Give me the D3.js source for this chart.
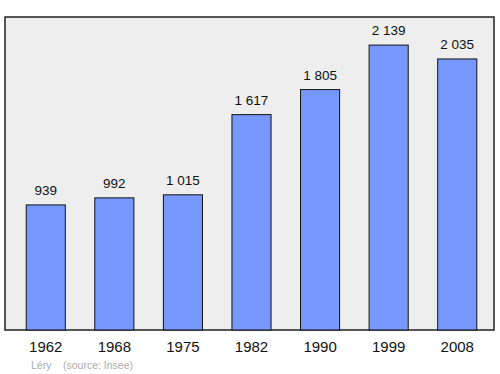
<!DOCTYPE html>
<html lang="fr">
<head>
<meta charset="UTF-8">
<title>Léry - population</title>
<script src="https://d3js.org/d3.v7.min.js"></script>
<style>
  body { margin: 0; background: #fff; }
  svg { display: block; font-family: "Liberation Sans", Arial, sans-serif; }
</style>
</head>
<body>
<svg></svg>
<script>
  const years = ["1962", "1968", "1975", "1982", "1990", "1999", "2008"];
  const population = [939, 992, 1015, 1617, 1805, 2139, 2035];

  const width = 500, height = 374;
  const frame = { left: 5, top: 17, right: 494, bottom: 330 };

  const svg = d3.select("svg").attr("width", width).attr("height", height);

  const x = d3.scaleBand().domain(years).range([12.5, 490.5]).paddingInner(0.43).paddingOuter(0.2);
  const y = d3.scaleLinear().domain([0, 2350]).range([frame.bottom, frame.top]);

  const fmt = v => d3.format(",")(v).replace(/,/g, " ");

  svg.append("rect")
    .attr("x", frame.left).attr("y", frame.top)
    .attr("width", frame.right - frame.left).attr("height", frame.bottom - frame.top)
    .attr("fill", "#eeeeee").attr("stroke", "#222").attr("stroke-width", 1.5);

  const data = years.map((yr, i) => ({ yr, v: population[i] }));

  svg.selectAll(".bar").data(data).join("rect")
    .attr("class", "bar")
    .attr("x", d => x(d.yr))
    .attr("y", d => y(d.v))
    .attr("width", x.bandwidth())
    .attr("height", d => y(0) - y(d.v))
    .attr("fill", "#7799ff").attr("stroke", "#111").attr("stroke-width", 1);

  svg.selectAll(".val").data(data).join("text")
    .attr("class", "val")
    .attr("x", d => x(d.yr) + x.bandwidth() / 2)
    .attr("y", d => y(d.v) - 10)
    .attr("text-anchor", "middle").attr("font-size", 13.5).attr("fill", "#111")
    .text(d => fmt(d.v));

  const xAxis = svg.append("g").attr("transform", `translate(0,${frame.bottom})`)
    .call(d3.axisBottom(x).tickSize(0).tickPadding(11));
  xAxis.select(".domain").remove();
  xAxis.selectAll("text").attr("font-size", 15).attr("fill", "#111")
    .attr("font-family", "\"Liberation Sans\", Arial, sans-serif");

  svg.append("text").attr("x", 31).attr("y", 369)
    .attr("font-size", 10.5).attr("fill", "#aaa").text("Léry");
  svg.append("text").attr("x", 63).attr("y", 369)
    .attr("font-size", 10.5).attr("fill", "#aaa").text("(source: Insee)");
</script>
</body>
</html>
